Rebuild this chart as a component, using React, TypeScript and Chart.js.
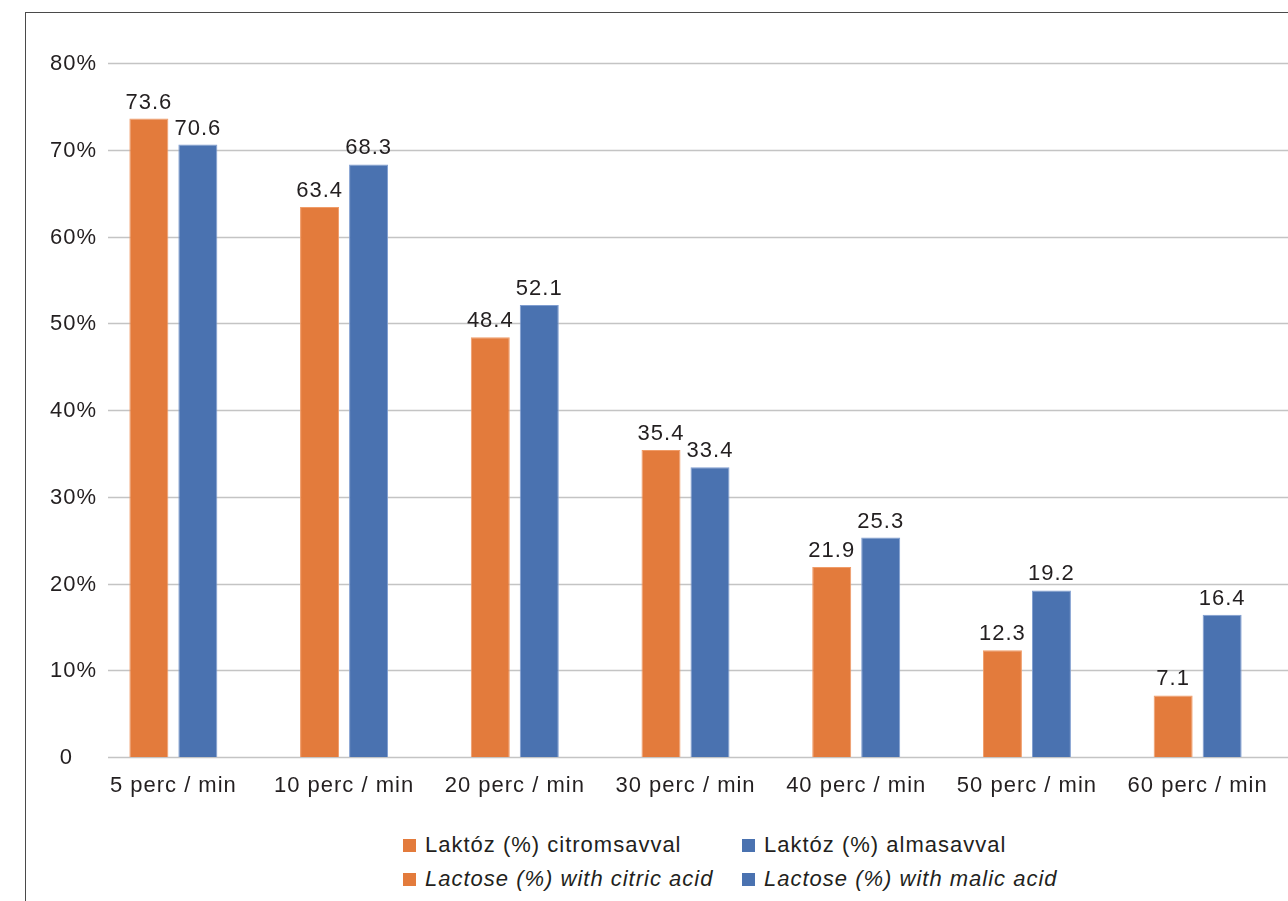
import React, { useEffect, useRef } from "react";
import { Chart, registerables } from "chart.js";

Chart.register(...registerables);

const categories = [
  "5 perc / min",
  "10 perc / min",
  "20 perc / min",
  "30 perc / min",
  "40 perc / min",
  "50 perc / min",
  "60 perc / min",
];
const citricValues = [73.6, 63.4, 48.4, 35.4, 21.9, 12.3, 7.1];
const malicValues = [70.6, 68.3, 52.1, 33.4, 25.3, 19.2, 16.4];
const yTickValues = [0, 10, 20, 30, 40, 50, 60, 70, 80];
const yTickLabels = ["0", "10%", "20%", "30%", "40%", "50%", "60%", "70%", "80%"];

const legendRow1 = ["Laktóz (%) citromsavval", "Laktóz (%) almasavval"];
const legendRow2 = ["Lactose (%) with citric acid", "Lactose (%) with malic acid"];

const ORANGE = "#E37B3C";
const BLUE = "#4A72B0";
const TEXT = "#231f20";
const FONT = "'Liberation Sans', Arial, Helvetica, sans-serif";

export default function App() {
  const canvasRef = useRef<HTMLCanvasElement | null>(null);

  useEffect(() => {
    if (!canvasRef.current) return;

    const spacingPlugin = {
      id: "spacing",
      beforeLayout(chart: any) {
        chart.ctx.letterSpacing = "1px";
      },
      beforeDraw(chart: any) {
        chart.ctx.letterSpacing = "1px";
      },
    };

    const gridPlugin = {
      id: "customGrid",
      beforeDatasetsDraw(chart: any) {
        const ctx = chart.ctx;
        const y = chart.scales.y;
        ctx.save();
        ctx.strokeStyle = "#c4c4c4";
        ctx.lineWidth = 1.3;
        for (const v of yTickValues) {
          const py = Math.round(y.getPixelForValue(v)) + 0.5;
          ctx.beginPath();
          ctx.moveTo(108, py);
          ctx.lineTo(chart.width, py);
          ctx.stroke();
        }
        ctx.letterSpacing = "1px";
        ctx.font = `22px ${FONT}`;
        ctx.fillStyle = TEXT;
        ctx.textAlign = "right";
        ctx.textBaseline = "middle";
        yTickValues.forEach((v, i) => {
          const py = y.getPixelForValue(v);
          const rightX = v === 0 ? 73 : 97;
          ctx.fillText(yTickLabels[i], rightX, py + 1);
        });
        ctx.restore();
      },
    };

    const valueLabelPlugin = {
      id: "valueLabels",
      afterDatasetsDraw(chart: any) {
        const ctx = chart.ctx;
        ctx.save();
        ctx.letterSpacing = "1px";
        ctx.font = `22px ${FONT}`;
        ctx.fillStyle = TEXT;
        ctx.textAlign = "center";
        ctx.textBaseline = "alphabetic";
        chart.data.datasets.forEach((ds: any, di: number) => {
          const meta = chart.getDatasetMeta(di);
          meta.data.forEach((bar: any, i: number) => {
            const val = ds.data[i] as number;
            ctx.fillText(val.toFixed(1), bar.x, bar.y - 10);
          });
        });
        ctx.restore();
      },
    };

    const chart = new Chart(canvasRef.current, {
      type: "bar",
      data: {
        labels: categories,
        datasets: [
          {
            label: legendRow1[0],
            data: citricValues,
            backgroundColor: ORANGE,
            borderColor: "#F09C68",
            borderWidth: 1,
            categoryPercentage: 0.574,
            barPercentage: 0.796,
          },
          {
            label: legendRow1[1],
            data: malicValues,
            backgroundColor: BLUE,
            borderColor: "#7F9DD0",
            borderWidth: 1,
            categoryPercentage: 0.574,
            barPercentage: 0.796,
          },
        ],
      },
      options: {
        animation: false,
        responsive: false,
        maintainAspectRatio: false,
        devicePixelRatio: 1,
        layout: { padding: { top: 63, right: 5, left: 0, bottom: 0 } },
        plugins: {
          legend: { display: false },
          tooltip: { enabled: false },
        },
        scales: {
          x: {
            grid: { display: false, drawTicks: false },
            border: { display: false },
            ticks: {
              color: TEXT,
              font: { size: 22, family: FONT },
              padding: 16,
              maxRotation: 0,
              autoSkip: false,
            },
            afterFit(scale: any) {
              scale.height = 53;
            },
          },
          y: {
            min: 0,
            max: 80,
            grid: { display: false, drawTicks: false },
            border: { display: false },
            ticks: {
              display: false,
              stepSize: 10,
            },
            afterFit(scale: any) {
              scale.width = 88;
            },
          },
        },
      },
      plugins: [spacingPlugin, gridPlugin, valueLabelPlugin],
    });

    return () => chart.destroy();
  }, []);

  const legendItem = (text: string, color: string, left: number, centerY: number, italic: boolean) => (
    <div
      key={text}
      style={{
        position: "absolute",
        left,
        top: centerY - 17,
        height: 34,
        display: "flex",
        alignItems: "center",
        whiteSpace: "nowrap",
      }}
    >
      <span style={{ display: "inline-block", width: 13, height: 13, background: color, marginRight: 9 }} />
      <span
        style={{
          fontFamily: FONT,
          fontSize: 22,
          letterSpacing: "1px",
          color: TEXT,
          fontStyle: italic ? "italic" : "normal",
          lineHeight: "34px",
        }}
      >
        {text}
      </span>
    </div>
  );

  return (
    <div
      style={{
        position: "fixed",
        left: 0,
        top: 0,
        width: 1288,
        height: 901,
        overflow: "hidden",
        background: "#ffffff",
      }}
    >
      <div
        style={{
          position: "absolute",
          left: 25,
          top: 12,
          width: 1400,
          height: 1000,
          borderLeft: "1.5px solid #4a4a4a",
          borderTop: "1.5px solid #4a4a4a",
        }}
      />
      <canvas
        ref={canvasRef}
        width={1288}
        height={810}
        style={{ position: "absolute", left: 0, top: 0, width: 1288, height: 810 }}
      />
      {legendItem(legendRow1[0], ORANGE, 403, 845, false)}
      {legendItem(legendRow1[1], BLUE, 742, 845, false)}
      {legendItem(legendRow2[0], ORANGE, 403, 879, true)}
      {legendItem(legendRow2[1], BLUE, 742, 879, true)}
    </div>
  );
}
